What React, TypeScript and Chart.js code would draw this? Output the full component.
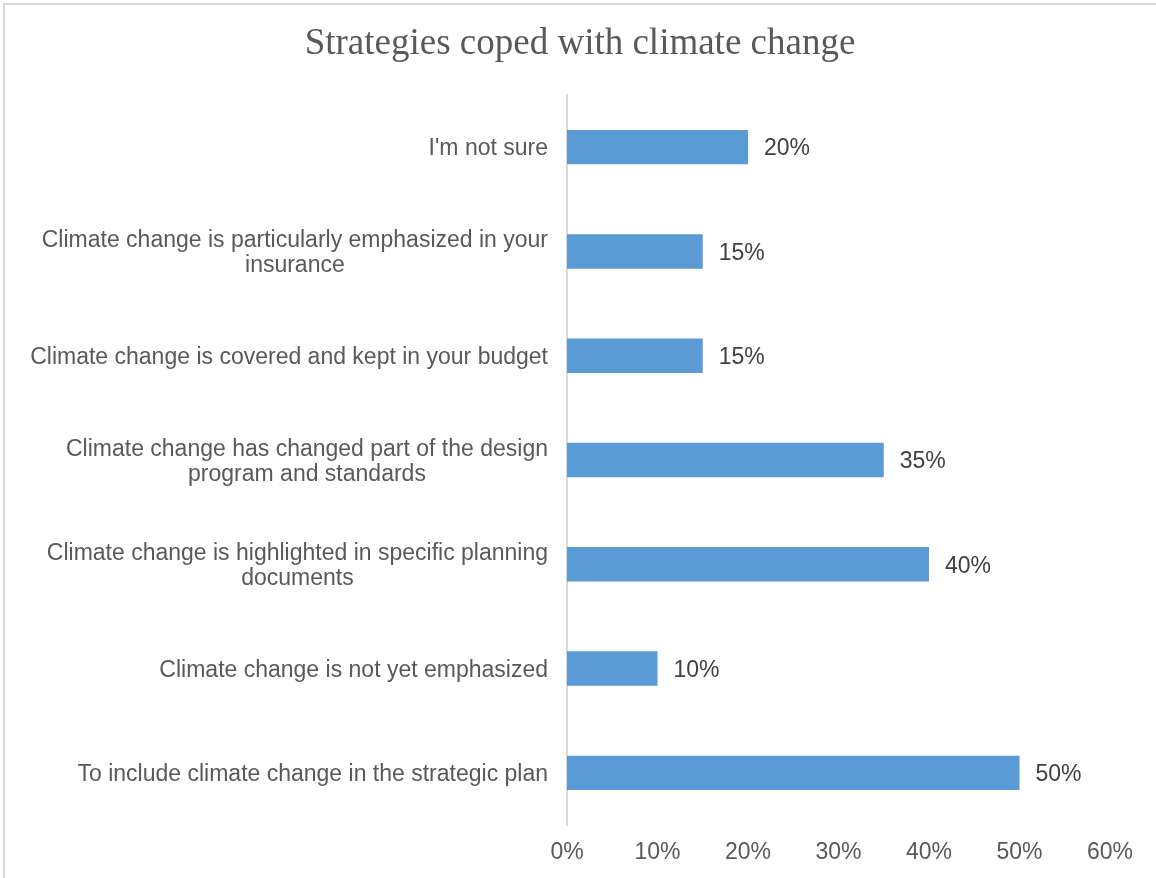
import React, { useEffect, useRef } from "react";
import { Chart, registerables } from "chart.js";

Chart.register(...registerables);

const TITLE = "Strategies coped with climate change";

const categories: string[][] = [
  ["I'm not sure"],
  ["Climate change is particularly emphasized in your", "insurance"],
  ["Climate change is covered and kept in your budget"],
  ["Climate change has changed part of the design", "program and standards"],
  ["Climate change is highlighted in specific planning", "documents"],
  ["Climate change is not yet emphasized"],
  ["To include climate change in the strategic plan"],
];

const values: number[] = [20, 15, 15, 35, 40, 10, 50];

const xTicks: number[] = [0, 10, 20, 30, 40, 50, 60];

const LABEL_FONT = "'Liberation Sans', Arial, sans-serif";
const LABEL_SIZE = 23;

const labelsPlugin = {
  id: "customLabels",
  afterDraw(chart: any) {
    const ctx = chart.ctx;
    const yScale = chart.scales.y;
    const area = chart.chartArea;
    ctx.save();
    // title
    ctx.font = "37px 'Liberation Serif', 'Times New Roman', serif";
    ctx.fillStyle = "#595959";
    ctx.textAlign = "center";
    ctx.textBaseline = "alphabetic";
    ctx.fillText(TITLE, 580, 54);
    // category labels (lines centred within a right-aligned block)
    ctx.font = `${LABEL_SIZE}px ${LABEL_FONT}`;
    ctx.fillStyle = "#595959";
    ctx.textBaseline = "middle";
    ctx.textAlign = "center";
    const lineH = 25;
    categories.forEach((lines, i) => {
      const y = yScale.getPixelForValue(i) + 2;
      const w = Math.max(...lines.map((l) => ctx.measureText(l).width));
      const cx = area.left - 19 - w / 2;
      lines.forEach((l, j) => {
        ctx.fillText(l, cx, y + (j - (lines.length - 1) / 2) * lineH);
      });
    });
    // data labels
    const meta = chart.getDatasetMeta(0);
    ctx.fillStyle = "#404040";
    ctx.textAlign = "left";
    meta.data.forEach((bar: any, i: number) => {
      ctx.fillText(values[i] + "%", bar.x + 16, bar.y + 2);
    });
    ctx.restore();
  },
};

export default function App() {
  const ref = useRef<HTMLCanvasElement | null>(null);
  useEffect(() => {
    if (!ref.current) return;
    const chart = new Chart(ref.current, {
      type: "bar",
      data: {
        labels: categories.map((c) => c.join(" ")),
        datasets: [
          {
            data: values,
            backgroundColor: "#5b9bd5",
            borderWidth: 0,
            categoryPercentage: 1,
            barPercentage: 0.33,
          },
        ],
      },
      options: {
        indexAxis: "y",
        animation: false,
        responsive: false,
        maintainAspectRatio: false,
        layout: { padding: { left: 567, right: 46, top: 95, bottom: 10 } },
        plugins: {
          legend: { display: false },
          tooltip: { enabled: false },
          title: { display: false },
        },
        scales: {
          x: {
            type: "linear",
            min: 0,
            max: 60,
            afterBuildTicks: (scale: any) => {
              scale.ticks = xTicks.map((v) => ({ value: v }));
            },
            afterFit: (scale: any) => {
              scale.height = 43;
            },
            grid: { display: false },
            border: { display: false },
            ticks: {
              color: "#595959",
              padding: 6,
              font: { family: LABEL_FONT, size: LABEL_SIZE },
              callback: (v: any) => v + "%",
            },
          },
          y: {
            type: "category",
            afterFit: (scale: any) => {
              scale.width = 0;
            },
            grid: { display: false },
            border: { display: true, color: "#d9d9d9", width: 2 },
            ticks: { display: false },
          },
        },
      },
      plugins: [labelsPlugin],
    });
    return () => chart.destroy();
  }, []);
  return (
    <div style={{ position: "absolute", left: 0, top: 0, width: 1156, height: 878, background: "#fff", overflow: "hidden" }}>
      <div
        style={{
          position: "absolute",
          left: 3,
          top: 3,
          width: 1170,
          height: 900,
          border: "2px solid #d9d9d9",
          boxSizing: "border-box",
        }}
      />
      <canvas ref={ref} width={1156} height={878} style={{ position: "absolute", left: 0, top: 0, width: 1156, height: 878 }} />
    </div>
  );
}
